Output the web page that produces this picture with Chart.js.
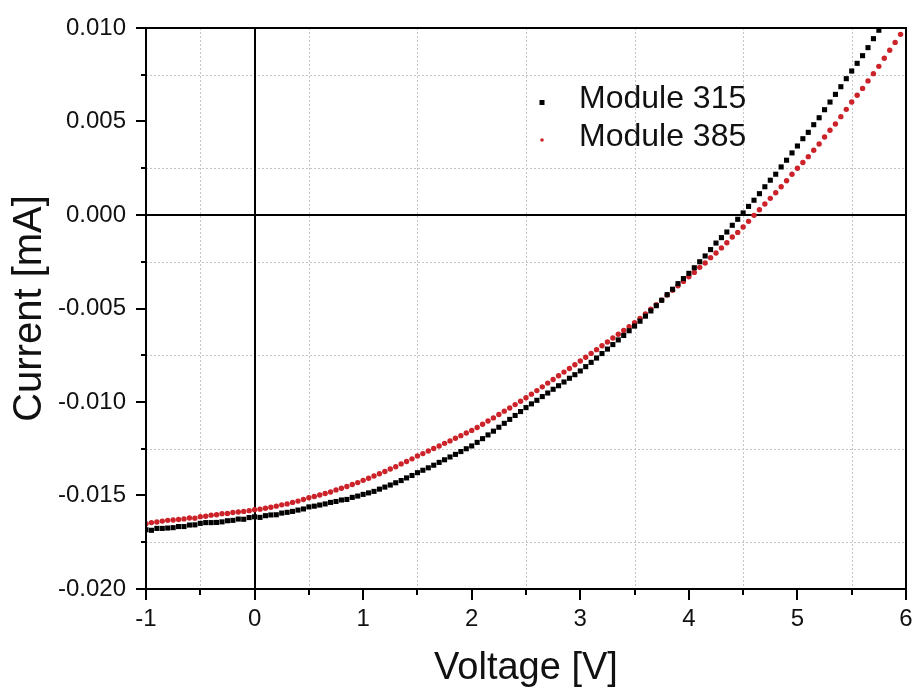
<!DOCTYPE html>
<html>
<head>
<meta charset="utf-8">
<script src="https://cdn.jsdelivr.net/npm/chart.js@4.4.1/dist/chart.umd.min.js"></script>
<style>
  html, body { margin: 0; padding: 0; background: #fff; }
  #wrap { width: 916px; height: 690px; position: relative; }
</style>
</head>
<body>
<div id="wrap"><canvas id="chart-iv"></canvas></div>
<script>
// sweep voltage [V], shared by both modules
var voltage = [
  -1, -0.95, -0.9, -0.85, -0.8, -0.75, -0.7, -0.65, -0.6, -0.55,
  -0.5, -0.45, -0.4, -0.35, -0.3, -0.25, -0.2, -0.15, -0.1, -0.05,
  0, 0.05, 0.1, 0.15, 0.2, 0.25, 0.3, 0.35, 0.4, 0.45,
  0.5, 0.55, 0.6, 0.65, 0.7, 0.75, 0.8, 0.85, 0.9, 0.95,
  1, 1.05, 1.1, 1.15, 1.2, 1.25, 1.3, 1.35, 1.4, 1.45,
  1.5, 1.55, 1.6, 1.65, 1.7, 1.75, 1.8, 1.85, 1.9, 1.95,
  2, 2.05, 2.1, 2.15, 2.2, 2.25, 2.3, 2.35, 2.4, 2.45,
  2.5, 2.55, 2.6, 2.65, 2.7, 2.75, 2.8, 2.85, 2.9, 2.95,
  3, 3.05, 3.1, 3.15, 3.2, 3.25, 3.3, 3.35, 3.4, 3.45,
  3.5, 3.55, 3.6, 3.65, 3.7, 3.75, 3.8, 3.85, 3.9, 3.95,
  4, 4.05, 4.1, 4.15, 4.2, 4.25, 4.3, 4.35, 4.4, 4.45,
  4.5, 4.55, 4.6, 4.65, 4.7, 4.75, 4.8, 4.85, 4.9, 4.95,
  5, 5.05, 5.1, 5.15, 5.2, 5.25, 5.3, 5.35, 5.4, 5.45,
  5.5, 5.55, 5.6, 5.65, 5.7, 5.75, 5.8, 5.85, 5.9, 5.95
];

// current [mA]
var module315 = [
  -0.01683, -0.01686, -0.01676, -0.01676, -0.01674, -0.01672, -0.01666, -0.01666, -0.01658, -0.01657,
  -0.01649, -0.01645, -0.01645, -0.01644, -0.01641, -0.01635, -0.01633, -0.01626, -0.01627, -0.01618,
  -0.01614, -0.01617, -0.01608, -0.01604, -0.01603, -0.01594, -0.01590, -0.01585, -0.01578, -0.01572,
  -0.01561, -0.01557, -0.01551, -0.01545, -0.01537, -0.01532, -0.01524, -0.01521, -0.01510, -0.01503,
  -0.01494, -0.01486, -0.01478, -0.01466, -0.01455, -0.01444, -0.01432, -0.01420, -0.01406, -0.01393,
  -0.01378, -0.01365, -0.01352, -0.01338, -0.01323, -0.01309, -0.01294, -0.01280, -0.01265, -0.01250,
  -0.01235, -0.01216, -0.01196, -0.01176, -0.01156, -0.01135, -0.01114, -0.01093, -0.01072, -0.01051,
  -0.01030, -0.01010, -0.00991, -0.00971, -0.00952, -0.00932, -0.00913, -0.00893, -0.00873, -0.00854,
  -0.00834, -0.00811, -0.00788, -0.00765, -0.00741, -0.00717, -0.00693, -0.00668, -0.00644, -0.00619,
  -0.00594, -0.00568, -0.00541, -0.00513, -0.00485, -0.00456, -0.00426, -0.00397, -0.00367, -0.00340,
  -0.00312, -0.00282, -0.00250, -0.00219, -0.00185, -0.00150, -0.00121, -0.00091, -0.00055, -0.00023,
  0.00011, 0.00046, 0.00079, 0.00114, 0.00151, 0.00186, 0.00218, 0.00257, 0.00293, 0.00332,
  0.00369, 0.00408, 0.00442, 0.00483, 0.00520, 0.00563, 0.00604, 0.00645, 0.00686, 0.00729,
  0.00770, 0.00811, 0.00852, 0.00895, 0.00943, 0.00988
];

var module385 = [
  -0.01651, -0.01645, -0.01642, -0.01637, -0.01633, -0.01631, -0.01628, -0.01625, -0.01620, -0.01621,
  -0.01613, -0.01611, -0.01605, -0.01603, -0.01597, -0.01596, -0.01591, -0.01588, -0.01585, -0.01581,
  -0.01576, -0.01573, -0.01568, -0.01563, -0.01557, -0.01550, -0.01545, -0.01537, -0.01530, -0.01521,
  -0.01512, -0.01505, -0.01497, -0.01489, -0.01481, -0.01470, -0.01461, -0.01452, -0.01441, -0.01431,
  -0.01419, -0.01408, -0.01396, -0.01384, -0.01372, -0.01358, -0.01346, -0.01331, -0.01318, -0.01304,
  -0.01289, -0.01276, -0.01262, -0.01249, -0.01235, -0.01221, -0.01208, -0.01194, -0.01180, -0.01166,
  -0.01152, -0.01136, -0.01119, -0.01102, -0.01085, -0.01067, -0.01049, -0.01032, -0.01014, -0.00996,
  -0.00977, -0.00958, -0.00939, -0.00919, -0.00899, -0.00880, -0.00860, -0.00840, -0.00821, -0.00801,
  -0.00781, -0.00761, -0.00740, -0.00720, -0.00699, -0.00679, -0.00658, -0.00638, -0.00617, -0.00597,
  -0.00576, -0.00553, -0.00529, -0.00504, -0.00480, -0.00455, -0.00428, -0.00403, -0.00378, -0.00355,
  -0.00330, -0.00307, -0.00280, -0.00257, -0.00228, -0.00203, -0.00176, -0.00148, -0.00118, -0.00093,
  -0.00064, -0.00034, -0.00002, 0.00028, 0.00059, 0.00089, 0.00119, 0.00151, 0.00183, 0.00218,
  0.00250, 0.00281, 0.00312, 0.00346, 0.00380, 0.00417, 0.00453, 0.00487, 0.00526, 0.00565,
  0.00604, 0.00640, 0.00677, 0.00717, 0.00756, 0.00795, 0.00838, 0.00881, 0.00923, 0.00966
];

var seriesNames = ['Module 315', 'Module 385'];
var seriesColors = ['#000000', '#cc2229'];

(function () {
  var fontFamily = "'Liberation Sans', Arial, sans-serif";
  Chart.defaults.font.family = fontFamily;
  Chart.defaults.color = '#000';

  function toPoints(ys) {
    return ys.map(function (y, i) {
      return { x: voltage[i], y: y };
    });
  }

  function isWhole(v, step) {
    return Math.abs(Math.round(v / step) * step - v) < step * 1e-3;
  }

  function noEdgePadding(s) {
    s.paddingLeft = 0;
    s.paddingRight = 0;
    s.paddingTop = 0;
    s.paddingBottom = 0;
  }

  // Origin-style frame: minor grid only, zero lines, outward ticks, inset legend
  var framePlugin = {
    id: 'originFrame',
    beforeDatasetsDraw: function (chart) {
      var ctx = chart.ctx, a = chart.chartArea;
      var xs = chart.scales.x, ys = chart.scales.y;
      ctx.save();
      ctx.strokeStyle = '#c4c4c4';
      ctx.lineWidth = 1;
      ctx.setLineDash([2, 2]);
      ctx.beginPath();
      xs.ticks.forEach(function (t) {
        if (isWhole(t.value, 1)) return;
        var px = Math.round(xs.getPixelForValue(t.value)) + 0.5;
        ctx.moveTo(px, a.top);
        ctx.lineTo(px, a.bottom);
      });
      ys.ticks.forEach(function (t) {
        if (isWhole(t.value, 0.005)) return;
        var py = Math.round(ys.getPixelForValue(t.value)) + 0.5;
        ctx.moveTo(a.left, py);
        ctx.lineTo(a.right, py);
      });
      ctx.stroke();
      ctx.setLineDash([]);
      ctx.strokeStyle = '#000';
      ctx.lineWidth = 2;
      ctx.beginPath();
      var x0 = Math.round(xs.getPixelForValue(0));
      var y0 = Math.round(ys.getPixelForValue(0));
      ctx.moveTo(x0, a.top);
      ctx.lineTo(x0, a.bottom);
      ctx.moveTo(a.left, y0);
      ctx.lineTo(a.right, y0);
      ctx.stroke();
      ctx.restore();
    },
    afterDraw: function (chart) {
      var ctx = chart.ctx, a = chart.chartArea;
      var xs = chart.scales.x, ys = chart.scales.y;
      ctx.save();
      ctx.strokeStyle = '#000';
      ctx.lineWidth = 2;
      ctx.strokeRect(a.left, a.top, a.right - a.left, a.bottom - a.top);
      ctx.beginPath();
      xs.ticks.forEach(function (t) {
        var px = Math.round(xs.getPixelForValue(t.value));
        var len = isWhole(t.value, 1) ? 11 : 6;
        ctx.moveTo(px, a.bottom);
        ctx.lineTo(px, a.bottom + len);
      });
      ys.ticks.forEach(function (t) {
        var py = Math.round(ys.getPixelForValue(t.value));
        var len = isWhole(t.value, 0.005) ? 10 : 5;
        ctx.moveTo(a.left, py);
        ctx.lineTo(a.left - len, py);
      });
      ctx.stroke();

      // legend
      ctx.font = '32px ' + fontFamily;
      ctx.textAlign = 'left';
      ctx.textBaseline = 'middle';
      chart.data.datasets.forEach(function (ds, i) {
        var rowY = a.top + 71 + i * 38;
        var mx = a.left + 396;
        ctx.fillStyle = ds.backgroundColor;
        if (ds.pointStyle === 'rect') {
          ctx.fillRect(mx - 2.5, rowY + 1, 5, 5);
        } else {
          ctx.beginPath();
          ctx.arc(mx, rowY + 3, 1.8, 0, Math.PI * 2);
          ctx.fill();
        }
        ctx.fillStyle = '#111';
        ctx.fillText(ds.label, a.left + 433, rowY);
      });
      ctx.restore();
    }
  };

  function init() {
    var el = document.getElementById('chart-iv');
    if (!el || typeof Chart === 'undefined') return;

    new Chart(el, {
      type: 'scatter',
      data: {
        datasets: [
          {
            label: seriesNames[0],
            data: toPoints(module315),
            backgroundColor: seriesColors[0],
            borderWidth: 0,
            pointStyle: 'rect',
            pointRadius: 3.6,
            pointHoverRadius: 3.6,
            showLine: false,
          },
          {
            label: seriesNames[1],
            data: toPoints(module385),
            backgroundColor: seriesColors[1],
            borderWidth: 0,
            pointStyle: 'circle',
            pointRadius: 2.7,
            pointHoverRadius: 2.7,
            showLine: false,
          },
        ],
      },
      options: {
        responsive: true,
        maintainAspectRatio: false,
        animation: false,
        events: [],
        layout: { padding: { top: 28, right: 10, left: 0, bottom: 0 } },
        plugins: {
          legend: { display: false },
          tooltip: { enabled: false },
        },
        scales: {
          x: {
            type: 'linear',
            min: -1,
            max: 6,
            grid: { display: false, drawTicks: false },
            border: { display: false },
            ticks: {
              stepSize: 0.5,
              autoSkip: false,
              maxRotation: 0,
              padding: 16,
              color: '#111',
              font: { size: 24 },
              callback: function (v) {
                return isWhole(v, 1) ? String(Math.round(v)) : '';
              },
            },
            title: {
              display: true,
              text: 'Voltage [V]',
              color: '#111',
              font: { size: 38, lineHeight: 1 },
              padding: { top: 0, bottom: 2 },
            },
            afterFit: function (s) {
              s.height = 101;
              noEdgePadding(s);
            },
          },
          y: {
            type: 'linear',
            min: -0.02,
            max: 0.01,
            grid: { display: false, drawTicks: false },
            border: { display: false },
            ticks: {
              stepSize: 0.0025,
              autoSkip: false,
              padding: 20,
              color: '#111',
              font: { size: 24 },
              callback: function (v) {
                if (!isWhole(v, 0.005)) return '';
                return (Math.round(v / 0.005) * 0.005).toFixed(3);
              },
            },
            title: {
              display: true,
              text: 'Current [mA]',
              color: '#111',
              font: { size: 40, lineHeight: 1 },
              padding: { top: 10, bottom: 0 },
            },
            afterFit: function (s) {
              s.width = 146;
              noEdgePadding(s);
            },
          },
        },
      },
      plugins: [framePlugin],
    });
  }

  if (document.readyState === 'loading') {
    document.addEventListener('DOMContentLoaded', init);
  } else {
    init();
  }
})();
</script>
</body>
</html>
